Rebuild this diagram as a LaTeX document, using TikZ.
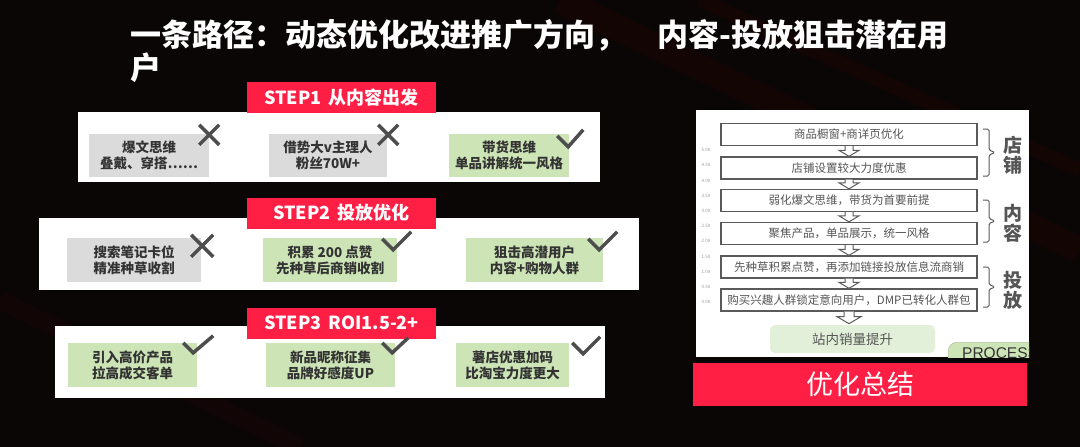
\documentclass[tikz,border=0pt]{standalone}
\usepackage{fontspec}
\setmainfont{Noto Sans CJK SC}
\newfontfamily\latinsans{Liberation Sans}
\usetikzlibrary{calc}
\definecolor{bgc}{HTML}{0B0606}
\definecolor{redc}{HTML}{FF1F45}
\definecolor{grayb}{HTML}{DBDBDB}
\definecolor{greenb}{HTML}{CDE5B6}
\definecolor{markc}{HTML}{4D4D4D}
\definecolor{txtc}{HTML}{333333}
\definecolor{flowc}{HTML}{5A5A5A}
\definecolor{flowtxt}{HTML}{555555}
\definecolor{salesg}{HTML}{E3F0D9}
\definecolor{procg}{HTML}{CDE5B6}
\begin{document}
\begin{tikzpicture}[x=1pt,y=-1pt,
  panel/.style={fill=white, draw=none, inner sep=0pt},
  stepbox/.style={fill=redc, text=white, inner sep=0pt, minimum width=189pt, minimum height=31pt,
    font=\fontsize{18pt}{20pt}\selectfont\bfseries},
  gbox/.style={fill=grayb, text=txtc, align=center, inner sep=0pt, minimum height=43pt,
    font=\fontsize{13.5pt}{16pt}\selectfont\bfseries},
  gnbox/.style={gbox, fill=greenb},
  xmark/.style={draw=markc, line width=3.5pt},
  vmark/.style={draw=markc, line width=3.5pt, line join=miter},
  flow/.style={draw=flowc, line width=1.3pt, fill=white, minimum width=256pt, minimum height=22pt,
    inner sep=0pt, text=flowtxt, font=\fontsize{11.5pt}{13pt}\selectfont},
  harrow/.style={draw=flowc, line width=1pt, fill=white},
  brk/.style={draw=flowc, line width=1pt, rounded corners=1.5pt},
  brlab/.style={text=flowtxt, align=center, font=\fontsize{19pt}{20pt}\selectfont\bfseries},
  axislab/.style={text=black!40, font=\fontsize{4.5pt}{5pt}\selectfont, inner sep=0pt},
  title/.style={text=white, anchor=west, inner sep=0pt, font=\fontsize{31pt}{33pt}\selectfont\bfseries}
]
\useasboundingbox (0,0) rectangle (1080,447);
\fill[bgc] (0,0) rectangle (1080,447);
% faint background streaks
\draw[line width=26pt, color=red!40!black, opacity=0.10] (560,0) -- (1080,250);
\draw[line width=14pt, color=red!40!black, opacity=0.10] (700,0) -- (1080,170);
\draw[line width=18pt, color=red!40!black, opacity=0.08] (0,300) -- (300,447);

% title
\node[title] (t1) at (130,35) {一条路径：动态优化改进推广方向，\hspace{1em}内容-投放狙击潜在用};
\node[title] (t2) at (130,68) {户};

% ===== STEP 1 =====
\node[panel, minimum width=522pt, minimum height=70pt] (p1) at (339,146.5) {};
\node[stepbox] (s1) at (341.5,97.5) {STEP1\hspace{0.4em}从内容出发};
\node[gbox, minimum width=120pt] (b11) at (149,155.5) {爆文思维\\叠戴、穿搭……};
\node[gbox, minimum width=118pt] (b12) at (328,155.5) {借势大v主理人\\粉丝70W+};
\node[gnbox, minimum width=120pt] (b13) at (509,155.5) {带货思维\\单品讲解统一风格};
\draw[xmark] ($(b11.north east)+(-10,-9)$) -- ++(20,20) ($(b11.north east)+(10,-9)$) -- ++(-20,20);
\draw[xmark] ($(b12.north east)+(-9,-9)$) -- ++(20,20) ($(b12.north east)+(11,-9)$) -- ++(-20,20);
\draw[vmark] ($(b13.north east)+(-12,2)$) -- ++(11,11) -- ++(15,-17);

% ===== STEP 2 =====
\node[panel, minimum width=600pt, minimum height=72pt] (p2) at (339,254) {};
\node[stepbox] (s2) at (341.5,213) {STEP2\hspace{0.4em}投放优化};
\node[gbox, minimum width=134pt, minimum height=44pt] (b21) at (134,260) {搜索笔记卡位\\精准种草收割};
\node[gnbox, minimum width=134pt, minimum height=44pt] (b22) at (330,260) {积累 200 点赞\\先种草后商销收割};
\node[gnbox, minimum width=137pt, minimum height=44pt] (b23) at (534.5,260) {狙击高潜用户\\内容+购物人群};
\draw[xmark] ($(b21.north east)+(-10,-3)$) -- ++(22,22) ($(b21.north east)+(12,-3)$) -- ++(-22,22);
\draw[vmark] ($(b22.north east)+(-15,1)$) -- ++(11,11) -- ++(18,-18);
\draw[vmark] ($(b23.north east)+(-15,1)$) -- ++(11,11) -- ++(18,-18);

% ===== STEP 3 =====
\node[panel, minimum width=550pt, minimum height=72pt] (p3) at (330,362) {};
\node[stepbox] (s3) at (341.5,323) {STEP3\hspace{0.4em}ROI1.5-2+};
\node[gnbox, minimum width=129pt, minimum height=44pt] (b31) at (132.5,365) {引入高价产品\\拉高成交客单};
\node[gnbox, minimum width=129pt, minimum height=44pt] (b32) at (330.5,365) {新品昵称征集\\品牌好感度UP};
\node[gnbox, minimum width=113pt, minimum height=44pt] (b33) at (512.5,365) {薯店优惠加码\\比淘宝力度更大};
\draw[vmark] ($(b31.north east)+(-14,0)$) -- ++(10,10) -- ++(20,-17);
\draw[vmark] ($(b32.north east)+(-13,0)$) -- ++(10,10) -- ++(16,-15);
\draw[vmark] ($(b33.north east)+(3,0)$) -- ++(11,11) -- ++(17,-17);

% ===== right panel =====
\node[panel, minimum width=333pt, minimum height=247pt] (rp) at (862.5,233.5) {};
\foreach \v [count=\i from 0] in {5.00,4.50,4.00,3.50,3.00,2.50,2.00,1.50,1.00,0.50,0.00}
  \node[axislab] (ax\i) at (706,{150+15.2*\i}) {\v};

\node[flow] (f1) at (849,134.5) {商品橱窗+商详页优化};
\node[flow] (f2) at (849,168) {店铺设置较大力度优惠};
\node[flow] (f3) at (849,200.5) {弱化爆文思维，带货为首要前提};
\node[flow] (f4) at (849,233.5) {聚焦产品，单品展示，统一风格};
\node[flow] (f5) at (849,267) {先种草积累点赞，再添加链接投放信息流商销};
\node[flow] (f6) at (849,300) {购买兴趣人群锁定意向用户，DMP已转化人群包};

\foreach \a/\b in {f1/f2,f2/f3,f3/f4,f4/f5,f5/f6}
  \draw[harrow] ($(\a.south)+(-4,0)$) |- ($(\b.north)+(-10,-6)$) -- (\b.north)
     -- ($(\b.north)+(10,-6)$) -| ($(\a.south)+(4,0)$);

\node[fill=salesg, rounded corners=5pt, minimum width=165pt, minimum height=28pt, inner sep=0pt,
  text=flowtxt, font=\fontsize{13.5pt}{15pt}\selectfont] (sales) at (852.5,339) {站内销量提升};
\coordinate (t6) at ($(f6.south)+(0,12)$);
\draw[harrow] ($(f6.south)+(-5,0)$) |- ($(t6)+(-12,-7)$) -- (t6)
   -- ($(t6)+(12,-7)$) -| ($(f6.south)+(5,0)$);

% brackets
\draw[brk] (983,129) -- (989,129) -- (989,150) -- (995,152.5) -- (989,155) -- (989,176) -- (983,176);
\draw[brk] (983,200) -- (989,200) -- (989,218.5) -- (995,221) -- (989,223.5) -- (989,242) -- (983,242);
\draw[brk] (983,267) -- (989,267) -- (989,284.5) -- (995,287) -- (989,289.5) -- (989,307) -- (983,307);
\node[brlab] (l1) at (1013,155) {店\\铺};
\node[brlab] (l2) at (1013,223.5) {内\\容};
\node[brlab] (l3) at (1013,290) {投\\放};

% PROCESS (clipped)
\begin{scope}
  \clip (rp.north west) rectangle (rp.south east);
  \node[fill=procg, draw=procg!80!black, rounded corners=9pt, anchor=north west, minimum width=120pt,
    minimum height=40pt, inner sep=0pt] (proc) at (948,342) {};
  \node[anchor=north west, inner sep=0pt, text=txtc, font=\latinsans\fontsize{15.5pt}{17pt}\selectfont]
    (proct) at (962,347) {PROCESS};
\end{scope}

% summary bar
\node[fill=redc, minimum width=334pt, minimum height=43pt, inner sep=0pt, text=white,
  font=\fontsize{27pt}{29pt}\selectfont] (sum) at (860,384.5) {优化总结};
\end{tikzpicture}
\end{document}
